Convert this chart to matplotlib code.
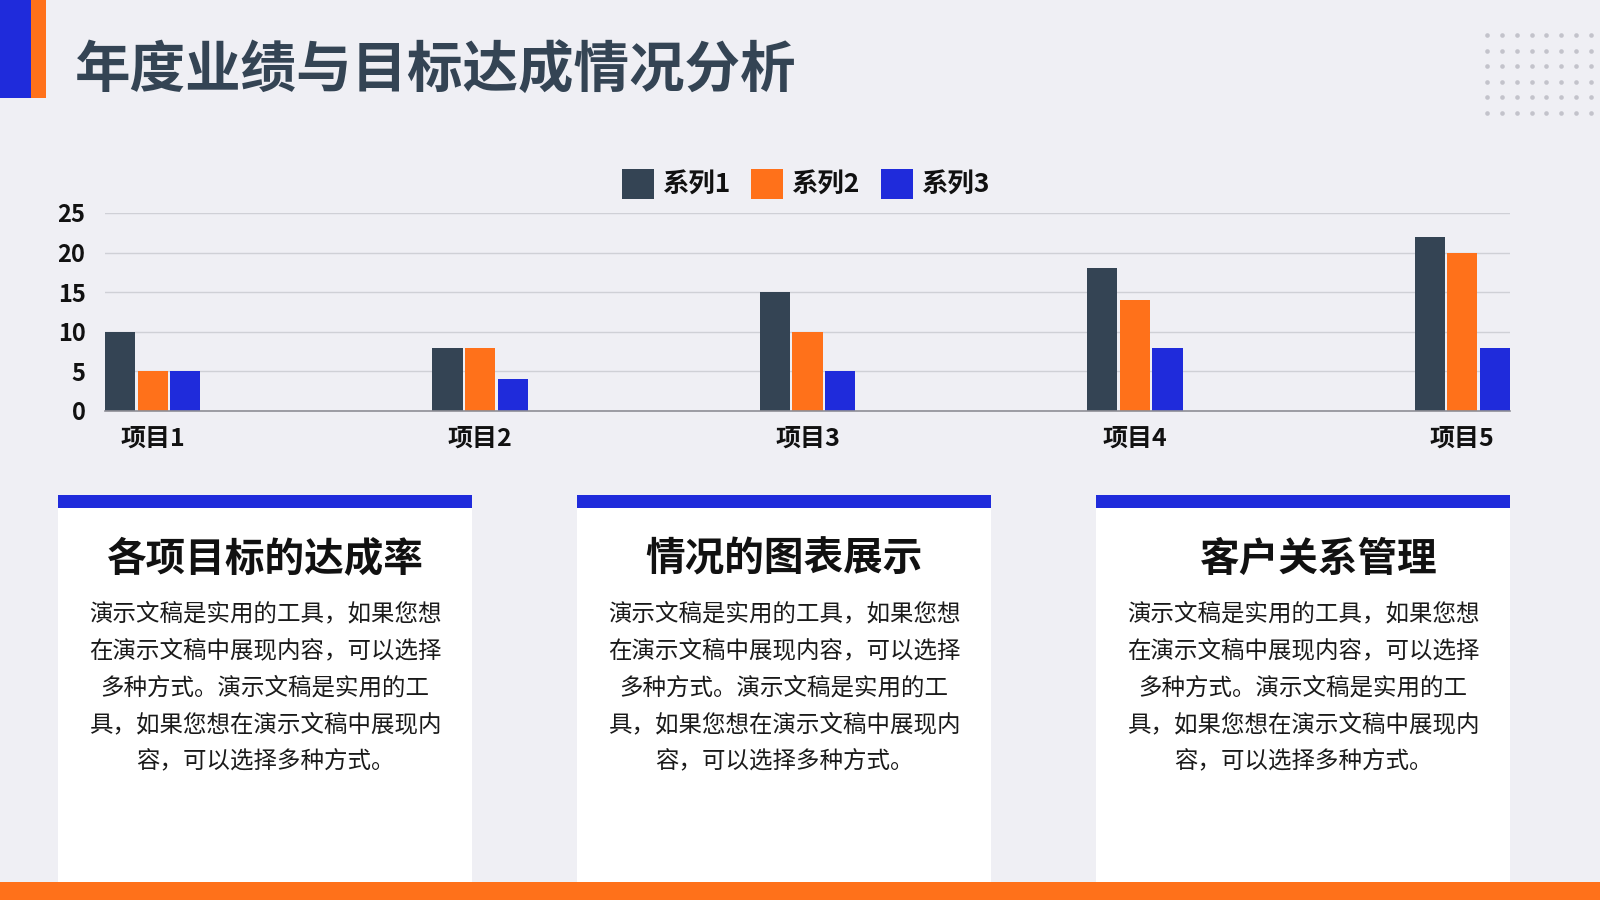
import matplotlib
matplotlib.use("Agg")
import matplotlib.pyplot as plt
from matplotlib.patches import Rectangle, Patch
import numpy as np

plt.rcParams['font.family'] = ['Noto Sans CJK SC', 'DejaVu Sans']

# data
categories = ["项目1", "项目2", "项目3", "项目4", "项目5"]
series_names = ["系列1", "系列2", "系列3"]
series1 = [10, 8, 15, 18, 22]
series2 = [5, 8, 10, 14, 20]
series3 = [5, 4, 5, 8, 8]
y_ticks = [0, 5, 10, 15, 20, 25]

title = "年度业绩与目标达成情况分析"
card_titles = ["各项目标的达成率", "情况的图表展示", "客户关系管理"]
card_lines = [
    "演示文稿是实用的工具，如果您想",
    "在演示文稿中展现内容，可以选择",
    "多种方式。演示文稿是实用的工",
    "具，如果您想在演示文稿中展现内",
    "容，可以选择多种方式。",
]

DARK = "#344454"
ORANGE = "#ff711a"
BLUE = "#1f2bdb"
BG = "#efeff4"
colors = [DARK, ORANGE, BLUE]

fig = plt.figure(figsize=(16, 9), dpi=100, facecolor=BG)

# background layer in pixel coordinates
bg = fig.add_axes([0, 0, 1, 1])
bg.set_xlim(0, 1600)
bg.set_ylim(900, 0)
bg.axis("off")

bg.add_patch(Rectangle((0, 0), 31, 98, color=BLUE, lw=0))
bg.add_patch(Rectangle((31, 0), 15, 98, color=ORANGE, lw=0))
bg.add_patch(Rectangle((0, 882), 1600, 18, color=ORANGE, lw=0))
bg.text(75, 71, title, fontsize=40, weight="bold", color=DARK, va="center", ha="left")

# dot grid top right
gx, gy = np.meshgrid(np.linspace(1487, 1591, 8), np.linspace(35, 113, 6))
bg.scatter(gx.ravel(), gy.ravel(), s=11, color="#c3c3cb", lw=0)

# cards (third title sits a bit right of centre in the original)
title_shift = [0, 0, 16]
for i, ct in enumerate(card_titles):
    x0 = 58 + i * 519
    bg.add_patch(Rectangle((x0, 508), 414, 374, color="white", lw=0))
    bg.add_patch(Rectangle((x0, 495), 414, 13, color=BLUE, lw=0))
    cx = x0 + 207
    bg.text(cx + title_shift[i], 559, ct, fontsize=28.5, weight="bold", color="#111111",
            ha="center", va="center")
    for j, line in enumerate(card_lines):
        bg.text(cx, 614 + j * 36.8, line, fontsize=16.9, color="#1a1a1a", ha="center", va="center")

# bar chart
ax = fig.add_axes([105 / 1600, 1 - 411 / 900, 1405 / 1600, 198 / 900])
ax.set_facecolor("none")
x = np.arange(len(categories))
w = 0.092
step = 0.0995
for k, vals in enumerate([series1, series2, series3]):
    ax.bar(x + (k - 1) * step, vals, width=w, color=colors[k], zorder=3, lw=0)

ax.set_xlim(-0.1455, len(categories) - 1 + 0.1455)
ax.set_ylim(0, 25)
ax.set_yticks(y_ticks)
ax.set_xticks(x)
ax.set_xticklabels(categories)
ax.yaxis.grid(True, color="#cfd0d6", lw=1, zorder=0)
ax.tick_params(axis="y", length=0, pad=14, labelsize=17)
ax.tick_params(axis="x", length=0, pad=11, labelsize=18)
for lab in ax.get_xticklabels() + ax.get_yticklabels():
    lab.set_fontweight("bold")
    lab.set_color("#111111")
for s in ["top", "right", "left"]:
    ax.spines[s].set_visible(False)
ax.spines["bottom"].set_color("#8e8e96")
ax.spines["bottom"].set_linewidth(1.2)
ax.spines["bottom"].set_zorder(4)

handles = [Patch(color=c, lw=0) for c in colors]
leg = fig.legend(handles, series_names, loc="center", bbox_to_anchor=(806 / 1600, 1 - 184 / 900),
                 ncol=3, frameon=False, fontsize=19, handlelength=1.22, handleheight=1.4,
                 handletextpad=0.35, columnspacing=0.75, borderpad=0)
for t in leg.get_texts():
    t.set_fontweight("bold")
    t.set_color("#111111")

fig.savefig("out.png", dpi=100, facecolor=BG)
